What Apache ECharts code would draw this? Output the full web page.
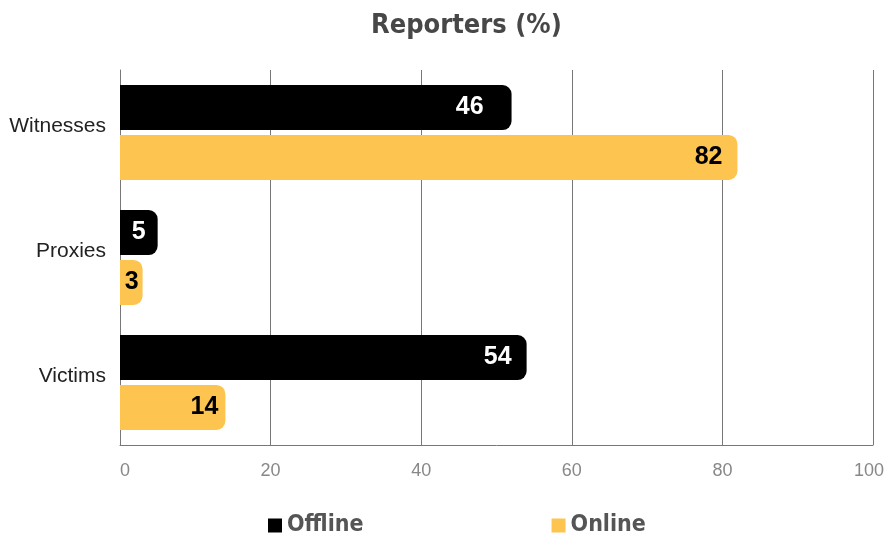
<!DOCTYPE html>
<html><head><meta charset="utf-8">
<script src="https://cdn.jsdelivr.net/npm/echarts@6/dist/echarts.min.js"></script>
<style>html,body{margin:0;padding:0;background:#fff}#c{width:886px;height:541px}</style>
</head><body><div id="c"></div>
<script>
const categories = ['Witnesses', 'Proxies', 'Victims'];
const offlineValues = [52, 5, 54];
const offlineLabels = ['46', '5', '54'];
const onlineValues = [82, 3, 14];
const onlineLabels = ['82', '3', '14'];
const xTicks = [0, 20, 40, 60, 80, 100];

const COND = "'DejaVu Sans Condensed', 'Liberation Sans', sans-serif";
const offlineDist = [28, 12, 15];
const onlineDist = [15, 4, 7];

const chart = echarts.init(document.getElementById('c'));
chart.setOption({
  animation: false,
  title: {
    text: 'Reporters (%)', left: 366, top: 7,
    textStyle: { fontFamily: COND, fontWeight: 'bold', fontSize: 27, color: '#474747' }
  },
  legend: {
    left: 263, bottom: -1, itemWidth: 14, itemHeight: 14, itemGap: 188, icon: 'rect',
    textStyle: { fontFamily: COND, fontWeight: 'bold', fontSize: 23, color: '#555' },
    data: ['Offline', 'Online']
  },
  grid: { left: 120, right: 13, top: 70, bottom: 96, containLabel: false, outerBoundsMode: 'none' },
  xAxis: {
    type: 'value', min: xTicks[0], max: xTicks[xTicks.length - 1], interval: 20,
    axisLine: { show: true, lineStyle: { color: '#777', width: 1 } },
    axisTick: { show: false },
    splitLine: { show: true, lineStyle: { color: '#777', width: 1 } },
    axisLabel: {
      color: '#888', fontSize: 18, fontFamily: 'Liberation Sans', margin: 17,
      formatter: v => v === xTicks[0] ? '{first|' + v + '}' : (v === xTicks[xTicks.length - 1] ? '{last|' + v + '}' : String(v)),
      rich: {
        first: { color: '#888', fontSize: 18, fontFamily: 'Liberation Sans', padding: [0, 0, 0, 10] },
        last: { color: '#888', fontSize: 18, fontFamily: 'Liberation Sans', padding: [0, 8, 0, 0] }
      }
    }
  },
  yAxis: {
    type: 'category', data: categories, inverse: true,
    axisLine: { show: true, lineStyle: { color: '#777', width: 1 } },
    axisTick: { show: false },
    axisLabel: {
      margin: 14, formatter: '{a|{value}}',
      rich: { a: { color: '#222', fontSize: 21, fontFamily: 'Liberation Sans', padding: [0, 0, 12, 0] } }
    }
  },
  series: [
    {
      name: 'Offline', type: 'bar', barWidth: 45, barGap: '11%',
      data: offlineValues.map((v, i) => ({ value: v, label: { distance: offlineDist[i] } })),
      itemStyle: { color: '#000000', borderRadius: [0, 9, 9, 0] },
      label: {
        show: true, position: 'insideRight', color: '#fff',
        fontFamily: 'Liberation Sans', fontWeight: 'bold', fontSize: 25,
        formatter: p => offlineLabels[p.dataIndex]
      }
    },
    {
      name: 'Online', type: 'bar', barWidth: 45,
      data: onlineValues.map((v, i) => ({ value: v, label: { distance: onlineDist[i] } })),
      itemStyle: { color: '#FDC44F', borderRadius: [0, 9, 9, 0] },
      label: {
        show: true, position: 'insideRight', color: '#000',
        fontFamily: 'Liberation Sans', fontWeight: 'bold', fontSize: 25,
        formatter: p => onlineLabels[p.dataIndex]
      }
    }
  ]
});
</script>
</body></html>
